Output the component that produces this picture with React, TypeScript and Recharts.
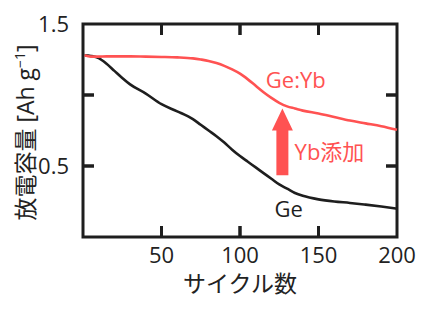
import React from 'react';
import { LineChart, Line, XAxis, YAxis, ReferenceArea, ReferenceLine, ReferenceDot } from 'recharts';

const cycles = [1, 5, 10, 15, 20, 25, 30, 40, 50, 60, 70, 75, 80, 85, 90, 95, 100, 105, 110, 115, 120, 125, 130, 135, 140, 150, 160, 170, 180, 190, 200];
const geCapacity = [1.28, 1.275, 1.26, 1.22, 1.17, 1.12, 1.075, 1.01, 0.935, 0.885, 0.83, 0.79, 0.75, 0.71, 0.665, 0.615, 0.57, 0.53, 0.49, 0.45, 0.41, 0.37, 0.34, 0.31, 0.29, 0.265, 0.25, 0.24, 0.228, 0.215, 0.2];
const geYbCapacity = [1.28, 1.27, 1.27, 1.272, 1.272, 1.272, 1.272, 1.27, 1.268, 1.265, 1.258, 1.25, 1.24, 1.225, 1.205, 1.18, 1.15, 1.11, 1.065, 1.02, 0.98, 0.945, 0.92, 0.905, 0.89, 0.87, 0.845, 0.82, 0.8, 0.78, 0.755];

const xTicks = [50, 100, 150, 200];
const xInnerTicks = [50, 100, 150];
const yTicks = [0.5, 1.5];
const yInnerTicks = [0.5, 1];

const X_MAX = 200;
const Y_MAX = 1.5;

const arrowCycle = 127;
const arrowFrom = 0.435;
const arrowTo = 0.905;

const FONT = "'Open Sans', 'Noto Sans CJK JP', sans-serif";
const RED = '#ff5252';
const BLACK = '#1e1e1e';
const TICK_LEN = 11;

const W = 432;
const H = 310;
const MARGIN = { top: 24, right: 35, left: 0, bottom: 0 };
const Y_AXIS_W = 83;
const X_AXIS_H = 73;
const PLOT = {
  left: MARGIN.left + Y_AXIS_W,
  right: W - MARGIN.right,
  top: MARGIN.top,
  bottom: H - MARGIN.bottom - X_AXIS_H,
};

const data = cycles.map((c, i) => ({ cycle: c, ge: geCapacity[i], geyb: geYbCapacity[i] }));

const tickLines = (left: number, top: number, width: number, height: number) => {
  const out: React.ReactNode[] = [];
  xInnerTicks.forEach((v) => {
    const x = left + (width * v) / X_MAX;
    out.push(<line key={'xb' + v} x1={x} x2={x} y1={top + height} y2={top + height - TICK_LEN} stroke={BLACK} strokeWidth={3} />);
    out.push(<line key={'xt' + v} x1={x} x2={x} y1={top} y2={top + TICK_LEN} stroke={BLACK} strokeWidth={3} />);
  });
  yInnerTicks.forEach((v) => {
    const y = top + height - (height * v) / Y_MAX;
    out.push(<line key={'yl' + v} x1={left} x2={left + TICK_LEN} y1={y} y2={y} stroke={BLACK} strokeWidth={3} />);
    out.push(<line key={'yr' + v} x1={left + width} x2={left + width - TICK_LEN} y1={y} y2={y} stroke={BLACK} strokeWidth={3} />);
  });
  return out;
};

const FrameShape = (p: any) => (
  <g>
    <rect x={p.x} y={p.y} width={p.width} height={p.height} fill="none" stroke={BLACK} strokeWidth={3} />
    {tickLines(p.x, p.y, p.width, p.height)}
  </g>
);

const ArrowShape = (props: any) => {
  const { x1, y1, x2, y2 } = props;
  const x = (x1 + x2) / 2;
  const tail = Math.max(y1, y2);
  const tip = Math.min(y1, y2);
  const headBase = tip + 22;
  const pts = [
    [x - 6, tail], [x - 6, headBase], [x - 10.5, headBase], [x, tip],
    [x + 10.5, headBase], [x + 6, headBase], [x + 6, tail],
  ].map((pt) => pt.join(',')).join(' ');
  return <polygon points={pts} fill={RED} />;
};

const makeLabel = (text: string, color: string) => (p: any) => (
  <text x={p.cx} y={p.cy} textAnchor="middle" fill={color} fontSize={22} fontFamily={FONT}>{text}</text>
);

export default function App() {
  return (
    <div style={{ position: 'absolute', left: 0, top: 0, width: W, height: H, background: '#fff' }}>
      <LineChart width={W} height={H} data={data} margin={MARGIN}>
        <XAxis
          xAxisId="b"
          dataKey="cycle"
          type="number"
          domain={[0, X_MAX]}
          ticks={xTicks}
          orientation="bottom"
          height={X_AXIS_H}
          axisLine={false}
          tickLine={false}
          tickMargin={4}
          tick={{ fill: '#222', fontSize: 22, fontFamily: FONT }}
          interval={0}
        />
        <YAxis
          yAxisId="l"
          type="number"
          domain={[0, Y_MAX]}
          ticks={yTicks}
          width={Y_AXIS_W}
          axisLine={false}
          tickLine={false}
          tickMargin={8}
          tick={{ fill: '#222', fontSize: 22, fontFamily: FONT }}
          tickFormatter={(v: number) => v.toFixed(1)}
          interval={0}
        />
        <ReferenceArea xAxisId="b" yAxisId="l" x1={0} x2={X_MAX} y1={0} y2={Y_MAX} fill="none" fillOpacity={0} stroke={BLACK} strokeWidth={3} shape={FrameShape} />
        <Line xAxisId="b" yAxisId="l" type="monotone" dataKey="ge" stroke={BLACK} strokeWidth={2.6} dot={false} isAnimationActive={false} />
        <Line xAxisId="b" yAxisId="l" type="monotone" dataKey="geyb" stroke={RED} strokeWidth={2.6} dot={false} isAnimationActive={false} />
        <ReferenceLine
          xAxisId="b"
          yAxisId="l"
          segment={[{ x: arrowCycle, y: arrowFrom }, { x: arrowCycle, y: arrowTo }]}
          shape={ArrowShape}
        />
        <ReferenceDot xAxisId="b" yAxisId="l" x={135.5} y={1.046} r={0} shape={makeLabel('Ge:Yb', RED)} />
        <ReferenceDot xAxisId="b" yAxisId="l" x={157} y={0.545} r={0} shape={makeLabel('Yb添加', RED)} />
        <ReferenceDot xAxisId="b" yAxisId="l" x={131} y={0.14} r={0} shape={makeLabel('Ge', BLACK)} />
      </LineChart>
      <svg width={W} height={H} style={{ position: 'absolute', left: 0, top: 0, pointerEvents: 'none' }}>
        {tickLines(PLOT.left, PLOT.top, PLOT.right - PLOT.left, PLOT.bottom - PLOT.top)}
        <text x={(PLOT.left + PLOT.right) / 2} y={292} textAnchor="middle" fontSize={23} fontFamily={FONT} fill="#222">サイクル数</text>
        <text transform={`translate(34,${(PLOT.top + PLOT.bottom) / 2 + 2}) rotate(-90)`} textAnchor="middle" fontSize={23} fontFamily={FONT} fill="#222">
          放電容量 [Ah g<tspan fontSize={14} dy={-9}>−1</tspan><tspan dy={9}>]</tspan>
        </text>
      </svg>
    </div>
  );
}
